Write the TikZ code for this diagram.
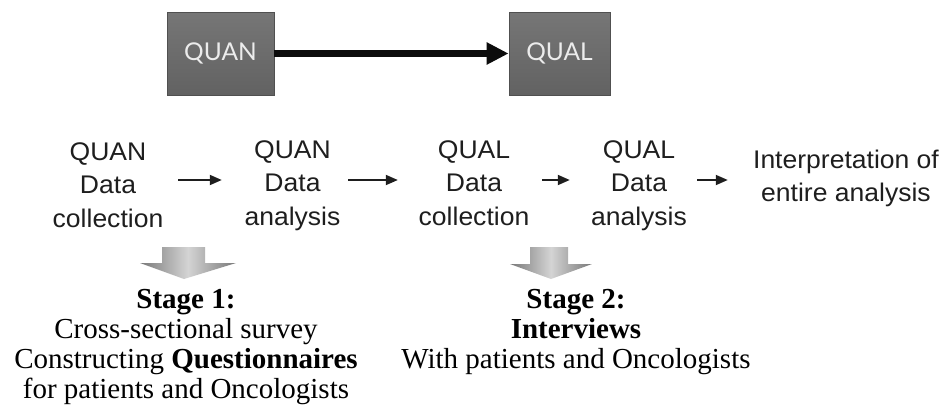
\documentclass[tikz,border=0pt]{standalone}
\usepackage{fontspec}
\setmainfont{Liberation Serif}
\newfontfamily\rowfont[FakeStretch=1.04]{Liberation Sans}
\newfontfamily\boxfont{Lato}
\usetikzlibrary{arrows.meta}
\definecolor{boxtop}{RGB}{118,118,118}
\definecolor{boxbot}{RGB}{98,98,98}
\definecolor{boxline}{RGB}{80,80,80}
\definecolor{boxtext}{RGB}{236,236,236}
\definecolor{rowtext}{RGB}{30,30,30}
\definecolor{arrowblack}{RGB}{12,12,12}
\definecolor{dagray}{RGB}{120,120,120}
\definecolor{dalight}{RGB}{212,212,212}
\tikzset{
  methodbox/.style={draw=boxline, line width=0.8pt, top color=boxtop, bottom color=boxbot,
    text=boxtext, font=\boxfont\fontsize{24.5}{28}\selectfont, inner sep=0pt},
  stepcol/.style={anchor=base, inner sep=0pt, text=rowtext,
    font=\rowfont\fontsize{25.5}{33.5}\selectfont},
  stagecol/.style={anchor=base, inner sep=0pt, text=black,
    font=\fontsize{29}{30}\selectfont},
  bigarrow/.style={line width=7.3pt, arrowblack, -{Triangle[length=22pt,width=21pt]}},
  rowarrow/.style={line width=1.8pt, rowtext, -{Triangle[length=12pt,width=10pt]}},
  downarrow/.style={draw=none, left color=dagray, right color=dagray, middle color=dalight}
}
\begin{document}
\begin{tikzpicture}[x=1pt,y=-1pt]
\useasboundingbox (0,0) rectangle (946,413);

% top method boxes
\node[methodbox, minimum width=107pt, minimum height=83pt] (quan) at (220.5,53.5) {QUAN};
\node[methodbox, minimum width=101pt, minimum height=83pt] (qual) at (559.5,53.5) {QUAL};
\draw[bigarrow] (quan.east) -- (qual.west);

% row of steps
\coordinate (rowy) at (0,180);
\node[stepcol] (c1) at (108,160) {\begin{tabular}[t]{@{}c@{}}QUAN\\ Data\\ collection\end{tabular}};
\node[stepcol] (c2) at (292.5,158) {\begin{tabular}[t]{@{}c@{}}QUAN\\ Data\\ analysis\end{tabular}};
\node[stepcol] (c3) at (474,158) {\begin{tabular}[t]{@{}c@{}}QUAL\\ Data\\ collection\end{tabular}};
\node[stepcol] (c4) at (639,158) {\begin{tabular}[t]{@{}c@{}}QUAL\\ Data\\ analysis\end{tabular}};
\node[stepcol] (c5) at (846,168) {\begin{tabular}[t]{@{}c@{}}Interpretation of\\ entire analysis\end{tabular}};

\draw[rowarrow] ([xshift=14.7pt]c1.east |- rowy) -- ([xshift=-22.6pt]c2.west |- rowy);
\draw[rowarrow] ([xshift=7.6pt]c2.east |- rowy) -- ([xshift=-20.7pt]c3.west |- rowy);
\draw[rowarrow] ([xshift=12.7pt]c3.east |- rowy) -- ([xshift=-21.1pt]c4.west |- rowy);
\draw[rowarrow] ([xshift=10.1pt]c4.east |- rowy) -- ([xshift=-25.15pt]c5.west |- rowy);

% shaded down arrows
\path[downarrow] (162,247) -- (205,247) -- (205,263) -- (236,263) -- (184,279)
  -- (140,263) -- (162,263) -- cycle;
\path[downarrow] (530,247) -- (568,247) -- (568,264) -- (592,264) -- (551,279)
  -- (510,264) -- (530,264) -- cycle;

% stage descriptions
\node[stagecol] (s1) at (186,308) {\begin{tabular}[t]{@{}c@{}}\textbf{Stage 1:}\\ Cross-sectional survey\\ Constructing \textbf{Questionnaires}\\ for patients and Oncologists\end{tabular}};
\node[stagecol] (s2) at (576,308) {\begin{tabular}[t]{@{}c@{}}\textbf{Stage 2:}\\ \textbf{Interviews}\\ With patients and Oncologists\end{tabular}};
\end{tikzpicture}
\end{document}
